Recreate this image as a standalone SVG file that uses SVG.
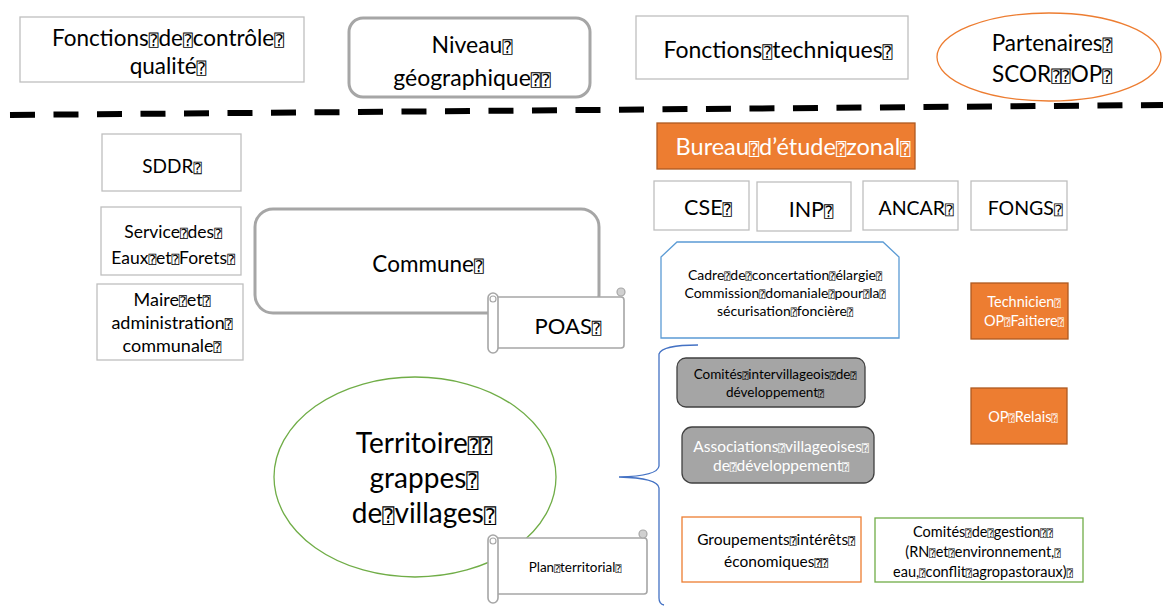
<svg xmlns="http://www.w3.org/2000/svg" width="1163" height="606" viewBox="0 0 1163 606">
<style>
.t{font-family:Lato,"Liberation Sans",sans-serif;text-anchor:middle;fill:#000}
.w{fill:#fff}
.q{font-family:"DejaVu Sans Mono","DejaVu Sans",monospace;font-size:0.72em}
.box{fill:#fff;stroke:#bfbfbf;stroke-width:1.3}
.rnd{fill:#fff;stroke:#a6a6a6;stroke-width:3}
.or{fill:#ed7d31;stroke:#ae5a21;stroke-width:1.3}
.gr{fill:#a5a5a5;stroke:#404040;stroke-width:1.3}
.scr{fill:#fff;stroke:#a6a6a6;stroke-width:1.6}
</style>
<rect width="1163" height="606" fill="#fff"/>
<g id="connectors">
<line x1="10" y1="115" x2="1163" y2="105" stroke="#000" stroke-width="6" stroke-dasharray="25 18.5"/>
<path d="M698,345 Q662,345 659,354 L659,466 Q658,476 619,477 Q658,478 659,488 L659,598 Q659,604 664,605" fill="none" stroke="#4472c4" stroke-width="1.3"/>
</g>
<g id="n-controle"><rect class="box" x="20" y="17" width="284" height="65"/>
<text class="t" x="168" y="46" font-size="22.5">Fonctions<tspan class="q">⍰</tspan>de<tspan class="q">⍰</tspan>contrôle<tspan class="q">⍰</tspan></text>
<text class="t" x="168" y="74" font-size="22.5">qualité<tspan class="q">⍰</tspan></text></g>
<g id="n-niveau"><rect class="rnd" x="349" y="18" width="241" height="79" rx="14"/>
<text class="t" x="472" y="53" font-size="23">Niveau<tspan class="q">⍰</tspan></text>
<text class="t" x="472" y="86" font-size="23">géographique<tspan class="q">⍰⍰</tspan></text></g>
<g id="n-techniques"><rect class="box" x="636" y="16" width="272" height="63"/>
<text class="t" x="778" y="58" font-size="23">Fonctions<tspan class="q">⍰</tspan>techniques<tspan class="q">⍰</tspan></text></g>
<g id="n-partenaires"><ellipse cx="1049" cy="57" rx="112" ry="44" fill="#fff" stroke="#ed7d31" stroke-width="1.3"/>
<text class="t" x="1052" y="51" font-size="22.5">Partenaires<tspan class="q">⍰</tspan></text>
<text class="t" x="1052" y="82" font-size="22.5">SCOR<tspan class="q">⍰⍰</tspan>OP<tspan class="q">⍰</tspan></text></g>
<g id="n-sddr"><rect class="box" x="102" y="134" width="139" height="57"/>
<text class="t" x="172" y="173" font-size="19">SDDR<tspan class="q">⍰</tspan></text></g>
<g id="n-eaux"><rect class="box" x="101" y="207" width="140" height="68"/>
<text class="t" x="173" y="238" font-size="17.5">Service<tspan class="q">⍰</tspan>des<tspan class="q">⍰</tspan></text>
<text class="t" x="173" y="264" font-size="17.5">Eaux<tspan class="q">⍰</tspan>et<tspan class="q">⍰</tspan>Forets<tspan class="q">⍰</tspan></text></g>
<g id="n-maire"><rect class="box" x="97" y="284" width="146" height="76"/>
<text class="t" x="172" y="306" font-size="18">Maire<tspan class="q">⍰</tspan>et<tspan class="q">⍰</tspan></text>
<text class="t" x="172" y="329" font-size="18">administration<tspan class="q">⍰</tspan></text>
<text class="t" x="172" y="352" font-size="18">communale<tspan class="q">⍰</tspan></text></g>
<g id="n-commune"><rect class="rnd" x="255" y="209" width="344" height="104" rx="18"/>
<text class="t" x="428" y="272" font-size="22.5">Commune<tspan class="q">⍰</tspan></text></g>
<g id="n-poas">
<rect class="scr" x="494" y="297" width="130" height="51" rx="3"/>
<rect class="scr" x="488" y="293" width="10" height="60" rx="5"/>
<circle cx="493" cy="299" r="3" fill="#fff" stroke="#a6a6a6" stroke-width="1.2"/>
<circle cx="621" cy="292" r="4" fill="#d0d0d0" stroke="#a6a6a6" stroke-width="1.2"/>
<text class="t" x="568" y="334" font-size="22">POAS<tspan class="q">⍰</tspan></text></g>
<g id="n-bureau"><rect class="or" x="657" y="123" width="258" height="46"/>
<text class="t w" x="793" y="155" font-size="23.5">Bureau<tspan class="q">⍰</tspan>d’étude<tspan class="q">⍰</tspan>zonal<tspan class="q">⍰</tspan></text></g>
<g id="n-cse"><rect class="box" x="654" y="181" width="95" height="49"/>
<text class="t" x="708" y="215" font-size="21.5">CSE<tspan class="q">⍰</tspan></text></g>
<g id="n-inp"><rect class="box" x="757" y="182" width="94" height="49"/>
<text class="t" x="811" y="217" font-size="21.5">INP<tspan class="q">⍰</tspan></text></g>
<g id="n-ancar"><rect class="box" x="863" y="181" width="95" height="49"/>
<text class="t" x="916" y="215" font-size="19.5">ANCAR<tspan class="q">⍰</tspan></text></g>
<g id="n-fongs"><rect class="box" x="971" y="181" width="96" height="49"/>
<text class="t" x="1025" y="215" font-size="19.5">FONGS<tspan class="q">⍰</tspan></text></g>
<g id="n-cadre"><polygon points="661,257 677,242 883,242 899,257 899,338 661,338" fill="#fff" stroke="#5b9bd5" stroke-width="1.3"/>
<text class="t" x="785" y="280" font-size="14">Cadre<tspan class="q">⍰</tspan>de<tspan class="q">⍰</tspan>concertation<tspan class="q">⍰</tspan>élargie<tspan class="q">⍰</tspan></text>
<text class="t" x="785" y="298" font-size="14">Commission<tspan class="q">⍰</tspan>domaniale<tspan class="q">⍰</tspan>pour<tspan class="q">⍰</tspan>la<tspan class="q">⍰</tspan></text>
<text class="t" x="785" y="316" font-size="14">sécurisation<tspan class="q">⍰</tspan>foncière<tspan class="q">⍰</tspan></text></g>
<g id="n-technicien"><rect class="or" x="971" y="283" width="97" height="56"/>
<text class="t w" x="1024" y="307" font-size="14.5">Technicien<tspan class="q">⍰</tspan></text>
<text class="t w" x="1024" y="326" font-size="14.5">OP<tspan class="q">⍰</tspan>Faitiere<tspan class="q">⍰</tspan></text></g>
<g id="n-comites-inter"><rect class="gr" x="677" y="358" width="188" height="49" rx="9"/>
<text class="t" x="775" y="379" font-size="13.5">Comités<tspan class="q">⍰</tspan>intervillageois<tspan class="q">⍰</tspan>de<tspan class="q">⍰</tspan></text>
<text class="t" x="775" y="397" font-size="13.5">développement<tspan class="q">⍰</tspan></text></g>
<g id="n-oprelais"><rect class="or" x="971" y="388" width="96" height="56"/>
<text class="t w" x="1023" y="422" font-size="14.5">OP<tspan class="q">⍰</tspan>Relais<tspan class="q">⍰</tspan></text></g>
<g id="n-associations"><rect class="gr" x="682" y="427" width="192" height="56" rx="10"/>
<text class="t w" x="781" y="452" font-size="15.5">Associations<tspan class="q">⍰</tspan>villageoises<tspan class="q">⍰</tspan></text>
<text class="t w" x="781" y="471" font-size="15.5">de<tspan class="q">⍰</tspan>développement<tspan class="q">⍰</tspan></text></g>
<g id="n-groupements"><rect x="682" y="517" width="179" height="65" fill="#fff" stroke="#ed7d31" stroke-width="1.3"/>
<text class="t" x="776" y="545" font-size="15.5">Groupements<tspan class="q">⍰</tspan>intérêts<tspan class="q">⍰</tspan></text>
<text class="t" x="776" y="567" font-size="15.5">économiques<tspan class="q">⍰⍰</tspan></text></g>
<g id="n-gestion"><rect x="875" y="518" width="208" height="64" fill="#fff" stroke="#70ad47" stroke-width="1.3"/>
<text class="t" x="983" y="537" font-size="14.5">Comités<tspan class="q">⍰</tspan>de<tspan class="q">⍰</tspan>gestion<tspan class="q">⍰⍰</tspan></text>
<text class="t" x="983" y="557" font-size="14.5">(RN<tspan class="q">⍰</tspan>et<tspan class="q">⍰</tspan>environnement,<tspan class="q">⍰</tspan></text>
<text class="t" x="983" y="577" font-size="14.5">eau,<tspan class="q">⍰</tspan>conflit<tspan class="q">⍰</tspan>agropastoraux)<tspan class="q">⍰</tspan></text></g>
<g id="n-territoire"><ellipse cx="415" cy="477" rx="141" ry="100" fill="#fff" stroke="#70ad47" stroke-width="1.3"/>
<text class="t" x="424" y="453" font-size="28">Territoire<tspan class="q">⍰⍰</tspan></text>
<text class="t" x="424" y="488" font-size="28">grappes<tspan class="q">⍰</tspan></text>
<text class="t" x="424" y="523" font-size="28">de<tspan class="q">⍰</tspan>villages<tspan class="q">⍰</tspan></text></g>
<g id="n-plan">
<rect class="scr" x="494" y="538" width="153" height="56" rx="3"/>
<rect class="scr" x="488" y="535" width="10" height="68" rx="5"/>
<circle cx="493" cy="541" r="3" fill="#fff" stroke="#a6a6a6" stroke-width="1.2"/>
<circle cx="643" cy="534" r="4" fill="#d0d0d0" stroke="#a6a6a6" stroke-width="1.2"/>
<text class="t" x="575" y="572" font-size="13.5">Plan<tspan class="q">⍰</tspan>territorial<tspan class="q">⍰</tspan></text></g>
</svg>
